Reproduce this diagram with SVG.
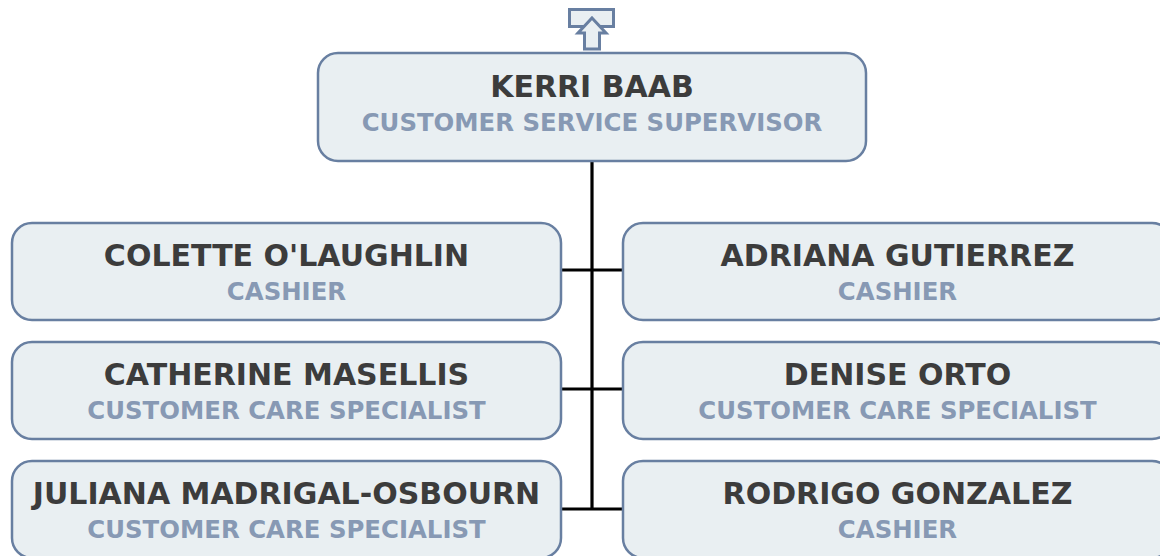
<svg xmlns="http://www.w3.org/2000/svg" width="1160" height="556" viewBox="0 0 1160 556">
<style>
.box{fill:#e9eff2;stroke:#687fa1;stroke-width:2.5}
.name{font-family:"DejaVu Sans",Verdana,sans-serif;font-weight:bold;font-size:30px;fill:#3c3c3c;text-anchor:middle}
.title{font-family:"DejaVu Sans",Verdana,sans-serif;font-weight:bold;font-size:24.4px;fill:#8799b4;text-anchor:middle}
.conn{stroke:#000;stroke-width:3.2;fill:none}
.icon{fill:#e9eff2;stroke:#687fa1;stroke-width:3}
</style>
<rect width="1160" height="556" fill="#fff"/>
<g id="connectors">
<path class="conn" d="M592 161V509"/>
<path class="conn" d="M561 270H623M561 389H623M561 509H623"/>
</g>
<g id="up-icon">
<rect class="icon" x="569.5" y="9.5" width="44" height="17"/>
<path class="icon" d="M592 18L606 33H599.5V49H584.5V33H578Z"/>
</g>
<g id="kerri-baab">
<rect class="box" x="318" y="53" width="548" height="108" rx="20"/>
<text class="name" x="592" y="97">KERRI BAAB</text>
<text class="title" x="592" y="131">CUSTOMER SERVICE SUPERVISOR</text>
</g>
<g id="colette-olaughlin">
<rect class="box" x="12" y="223" width="549" height="97" rx="20"/>
<text class="name" x="286.5" y="266">COLETTE O'LAUGHLIN</text>
<text class="title" x="286.5" y="300">CASHIER</text>
</g>
<g id="adriana-gutierrez">
<rect class="box" x="623" y="223" width="549" height="97" rx="20"/>
<text class="name" x="897.5" y="266">ADRIANA GUTIERREZ</text>
<text class="title" x="897.5" y="300">CASHIER</text>
</g>
<g id="catherine-masellis">
<rect class="box" x="12" y="342" width="549" height="97" rx="20"/>
<text class="name" x="286.5" y="385">CATHERINE MASELLIS</text>
<text class="title" x="286.5" y="419">CUSTOMER CARE SPECIALIST</text>
</g>
<g id="denise-orto">
<rect class="box" x="623" y="342" width="549" height="97" rx="20"/>
<text class="name" x="897.5" y="385">DENISE ORTO</text>
<text class="title" x="897.5" y="419">CUSTOMER CARE SPECIALIST</text>
</g>
<g id="juliana-madrigal-osbourn">
<rect class="box" x="12" y="461" width="549" height="97" rx="20"/>
<text class="name" x="286.5" y="504">JULIANA MADRIGAL-OSBOURN</text>
<text class="title" x="286.5" y="538">CUSTOMER CARE SPECIALIST</text>
</g>
<g id="rodrigo-gonzalez">
<rect class="box" x="623" y="461" width="549" height="97" rx="20"/>
<text class="name" x="897.5" y="504">RODRIGO GONZALEZ</text>
<text class="title" x="897.5" y="538">CASHIER</text>
</g>
</svg>
